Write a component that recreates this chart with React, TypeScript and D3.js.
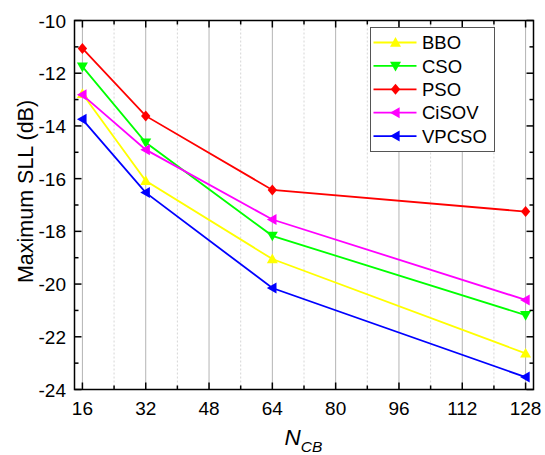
import React from "react";
import * as d3 from "d3";

const xValues = [16, 32, 64, 128];
const seriesNames = ["BBO", "CSO", "PSO", "CiSOV", "VPCSO"];
const bbo = [-12.78, -16.08, -19.05, -22.63];
const cso = [-11.75, -14.63, -18.17, -21.18];
const pso = [-11.06, -13.62, -16.43, -17.25];
const cisov = [-12.82, -14.9, -17.55, -20.6];
const vpcso = [-13.75, -16.53, -20.15, -23.53];
const colors = ["#ffff00", "#00ff00", "#ff0000", "#ff00ff", "#0000ff"];
const markers = ["up", "down", "diamond", "left", "left"];
const xTicks = [16, 32, 48, 64, 80, 96, 112, 128];
const yTicks = [-24, -22, -20, -18, -16, -14, -12, -10];

const W = 545, H = 455;
const M = { left: 74.5, right: 533.5, top: 20.5, bottom: 389.5 };

function markerPath(kind: string, s: number): string {
  const h = s;
  switch (kind) {
    case "up":
      return `M0,${-h} L${h},${h * 0.75} L${-h},${h * 0.75} Z`;
    case "down":
      return `M0,${h} L${h},${-h * 0.75} L${-h},${-h * 0.75} Z`;
    case "left":
      return `M${-h},0 L${h * 0.75},${-h} L${h * 0.75},${h} Z`;
    case "diamond":
      return `M0,${-h} L${h * 0.85},0 L0,${h} L${-h * 0.85},0 Z`;
    default:
      return "";
  }
}

export default function App() {
  const data = [bbo, cso, pso, cisov, vpcso];
  const x = d3.scaleLinear().domain([14, 130]).range([M.left, M.right]);
  const y = d3.scaleLinear().domain([-24, -10]).range([M.bottom, M.top]);
  const line = d3
    .line<number>()
    .x((_, i) => x(xValues[i]))
    .y((d) => y(d));

  const minorX = d3.range(16, 130, 8).filter((v) => !xTicks.includes(v));
  const minorY = d3.range(-24, -9.5, 1).filter((v) => !yTicks.includes(v));
  const font = "'Liberation Sans', Arial, sans-serif";
  const legX = 370.5, legY = 27.5, legW = 124, legH = 124;

  return (
    <svg width={W} height={H} style={{ position: "absolute", left: 0, top: 0 }} fontFamily={font}>
      <rect x={0} y={0} width={W} height={H} fill="#fff" />
      {/* grid */}
      {minorX.map((v) => (
        <line key={"mx" + v} x1={x(v)} x2={x(v)} y1={M.top} y2={M.bottom} stroke="#d6d6d6" strokeDasharray="2,2" strokeWidth={1} />
      ))}
      {xTicks.map((v) => (
        <line key={"gx" + v} x1={x(v)} x2={x(v)} y1={M.top} y2={M.bottom} stroke="#b4b4b4" strokeWidth={1} />
      ))}
      {/* series */}
      {data.map((d, si) => (
        <g key={seriesNames[si]}>
          <path d={line(d) || ""} fill="none" stroke={colors[si]} strokeWidth={1.8} />
          {d.map((v, i) => (
            <path key={i} d={markerPath(markers[si], 5.5)} transform={`translate(${x(xValues[i])},${y(v)})`} fill={colors[si]} />
          ))}
        </g>
      ))}
      {/* axes frame */}
      <rect x={M.left} y={M.top} width={M.right - M.left} height={M.bottom - M.top} fill="none" stroke="#000" strokeWidth={1.5} />
      {/* x ticks */}
      {xTicks.map((v) => (
        <g key={"xt" + v}>
          <line x1={x(v)} x2={x(v)} y1={M.bottom} y2={M.bottom - 7} stroke="#000" strokeWidth={1.5} />
          <line x1={x(v)} x2={x(v)} y1={M.top} y2={M.top + 7} stroke="#000" strokeWidth={1.5} />
          <text x={x(v)} y={415} textAnchor="middle" fontSize={19}>{v}</text>
        </g>
      ))}
      {minorX.map((v) => (
        <g key={"xm" + v}>
          <line x1={x(v)} x2={x(v)} y1={M.bottom} y2={M.bottom - 4} stroke="#000" strokeWidth={1.5} />
          <line x1={x(v)} x2={x(v)} y1={M.top} y2={M.top + 4} stroke="#000" strokeWidth={1.5} />
        </g>
      ))}
      {/* y ticks */}
      {yTicks.map((v) => (
        <g key={"yt" + v}>
          <line x1={M.left} x2={M.left + 7} y1={y(v)} y2={y(v)} stroke="#000" strokeWidth={1.5} />
          <line x1={M.right} x2={M.right - 7} y1={y(v)} y2={y(v)} stroke="#000" strokeWidth={1.5} />
          <text x={66} y={y(v) + 7} textAnchor="end" fontSize={19}>{v}</text>
        </g>
      ))}
      {minorY.map((v) => (
        <g key={"ym" + v}>
          <line x1={M.left} x2={M.left + 4} y1={y(v)} y2={y(v)} stroke="#000" strokeWidth={1.5} />
          <line x1={M.right} x2={M.right - 4} y1={y(v)} y2={y(v)} stroke="#000" strokeWidth={1.5} />
        </g>
      ))}
      {/* axis titles */}
      <text transform={`translate(33,191.5) rotate(-90)`} textAnchor="middle" fontSize={21.5}>
        Maximum SLL (dB)
      </text>
      <text x={284.5} y={445} fontSize={22.5} fontStyle="italic">
        N<tspan fontSize={15.5} dy={6.5}>CB</tspan>
      </text>
      {/* legend */}
      <rect x={legX} y={legY} width={legW} height={legH} fill="#fff" stroke="#555" strokeWidth={1} />
      {seriesNames.map((n, i) => {
        const ly = 42.5 + i * 23.4;
        return (
          <g key={"lg" + n}>
            <line x1={373.5} x2={416.5} y1={ly} y2={ly} stroke={colors[i]} strokeWidth={1.8} />
            <path d={markerPath(markers[i], 5.5)} transform={`translate(395.5,${ly})`} fill={colors[i]} />
            <text x={422} y={ly + 6.6} fontSize={18.5}>{n}</text>
          </g>
        );
      })}
    </svg>
  );
}
